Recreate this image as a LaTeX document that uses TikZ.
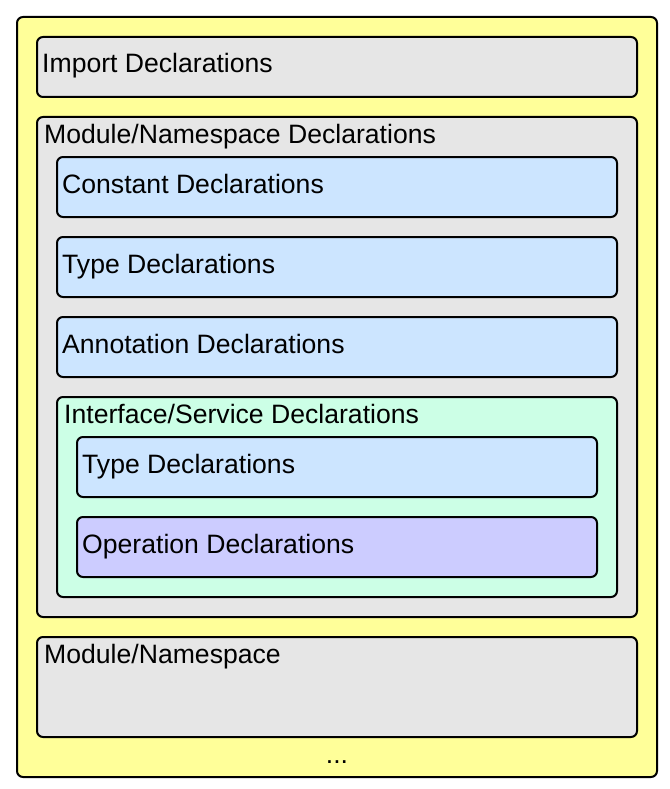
\documentclass[tikz,border=0pt]{standalone}
\usepackage{fontspec}
\setmainfont{Liberation Sans}
\definecolor{cyel}{HTML}{FFFF99}
\definecolor{cgray}{HTML}{E6E6E6}
\definecolor{cblue}{HTML}{CCE5FF}
\definecolor{cgreen}{HTML}{CCFFE6}
\definecolor{cpurp}{HTML}{CCCCFF}
\tikzset{
  boxstyle/.style={draw=black, line width=2pt, rounded corners=6pt},
  lbl/.style={anchor=base west, inner sep=0pt, font=\fontsize{26.6}{30}\selectfont},
}
\begin{document}
\begin{tikzpicture}[x=1pt,y=-1pt]
\useasboundingbox (0,0) rectangle (669,789);
\path[boxstyle, fill=cyel] (17,17) rectangle (657,777);
% Import
\path[boxstyle, fill=cgray] (37,37) rectangle (637,97);
\node[lbl] (imp) at (42,73) {Import Declarations};
% Module/Namespace Declarations
\path[boxstyle, fill=cgray] (37,117) rectangle (637,617);
\node[lbl] (mnd) at (44,143) {Module/Namespace Declarations};
\path[boxstyle, fill=cblue] (57,157) rectangle (617,217);
\node[lbl] (cst) at (62,193) {Constant Declarations};
\path[boxstyle, fill=cblue] (57,237) rectangle (617,297);
\node[lbl] (typ) at (62,273) {Type Declarations};
\path[boxstyle, fill=cblue] (57,317) rectangle (617,377);
\node[lbl] (ann) at (62,353) {Annotation Declarations};
% Interface
\path[boxstyle, fill=cgreen] (57,397) rectangle (617,597);
\node[lbl] (ifc) at (64,423) {Interface/Service Declarations};
\path[boxstyle, fill=cblue] (77,437) rectangle (597,497);
\node[lbl] (ityp) at (82,473) {Type Declarations};
\path[boxstyle, fill=cpurp] (77,517) rectangle (597,577);
\node[lbl] (op) at (82,553) {Operation Declarations};
% Module/Namespace
\path[boxstyle, fill=cgray] (37,637) rectangle (637,737);
\node[lbl] (mn) at (44,663) {Module/Namespace};
\node[lbl, anchor=base] (dots) at (337,763) {...};
\end{tikzpicture}
\end{document}
